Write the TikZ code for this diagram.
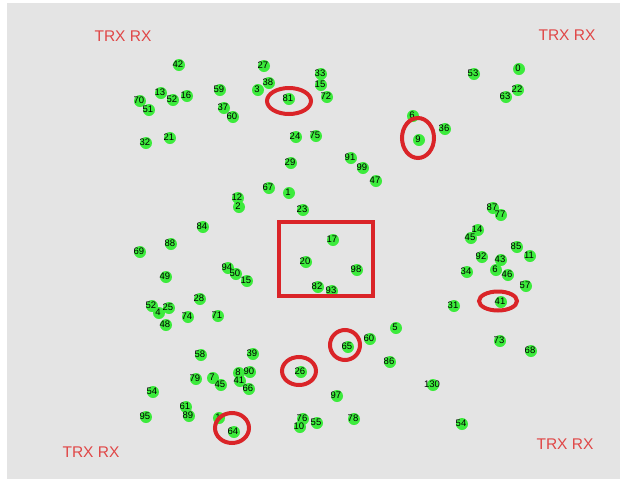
\documentclass[tikz,border=0pt]{standalone}
\usepackage{fontspec}
\setmainfont{Liberation Sans}
\definecolor{bg}{HTML}{E4E4E4}
\definecolor{dotg}{HTML}{3CEB3C}
\definecolor{ringr}{HTML}{DA2428}
\definecolor{trx}{HTML}{E04646}
\begin{document}
\begin{tikzpicture}[x=1pt,y=-1pt,
  lbl/.style={inner sep=0pt,font=\fontsize{9.5}{9.5}\selectfont,text=black},
  dotfill/.style={fill=dotg},
  ring/.style={draw=ringr,line width=4pt},
  trxlbl/.style={inner sep=0pt,font=\fontsize{15.5}{15.5}\selectfont,text=trx}]
\useasboundingbox (0,0) rectangle (625,483);
\fill[white] (0,0) rectangle (625,483);
\fill[bg] (7,3) rectangle (620,479);
\def\pts{
1/178/64/42, 2/263/65/27, 3/320/73/33, 4/320/84/15, 5/268/82/38, 6/257/89/3,
7/326/96/72, 8/288/98/81, 9/219/89/59, 10/186/95/16, 11/160/92/13, 12/172/99/52,
13/139/100/70, 14/148/109/51, 15/223/107/37, 16/232/116/60, 17/145/142/32, 18/169/137/21,
19/295/136/24, 20/315/135/75, 21/290/162/29, 22/350/157/91, 23/362/167/99, 24/375/180/47,
25/412/115/6, 26/418/139/9, 27/444/128/36, 28/473/73/53, 29/518/68/0, 30/517/89/22,
31/505/96/63, 32/268/187/67, 33/288/192/1, 34/237/197/12, 35/238/206/2, 36/302/209/23,
37/202/226/84, 38/170/243/88, 39/139/251/69, 40/165/276/49, 41/227/267/94, 42/235/273/50,
43/246/280/15, 44/199/298/28, 45/332/239/17, 46/305/261/20, 47/356/269/98, 48/317/286/82,
49/331/290/93, 50/492/207/87, 51/500/214/77, 52/477/229/14, 53/470/237/45, 54/516/246/85,
55/529/255/11, 56/481/256/92, 57/500/259/43, 58/495/269/6, 59/507/274/46, 60/466/271/34,
61/525/285/57, 62/453/305/31, 63/500/301/41, 64/499/340/73, 65/530/350/68, 66/151/305/52,
67/158/312/4, 68/168/307/25, 69/187/316/74, 70/165/324/48, 71/217/315/71, 72/395/327/5,
73/369/338/60, 74/347/346/65, 75/200/354/58, 76/252/353/39, 77/389/361/86, 78/300/371/26,
79/195/378/79, 80/212/377/7, 81/220/384/45, 82/238/372/8, 83/249/371/90, 84/239/380/41,
85/248/388/66, 86/152/391/54, 87/145/416/95, 88/185/406/61, 89/188/415/89, 90/336/395/97,
91/353/418/78, 92/432/384/130, 93/461/423/54, 94/302/418/76, 95/316/422/55, 96/299/426/10,
97/233/431/64, 98/218/417/1}
\foreach \i/\x/\y/\l in \pts
  {\fill[dotfill] (\x+1,\y+1) circle (6);}
\foreach \i/\x/\y/\l in \pts
  {\node[lbl] (n\i) at (\x,\y) {\l};}
% red markings
\draw[ring] (279,222) rectangle (373,296);
\draw[ring] (289,101) ellipse [x radius=22, y radius=13];
\draw[ring] (418,138) ellipse [x radius=16, y radius=20];
\draw[ring] (498,301) ellipse [x radius=19, y radius=9.5];
\draw[ring] (345,345) ellipse [x radius=15, y radius=15];
\draw[ring] (299,371) ellipse [x radius=17, y radius=14];
\draw[ring] (232,428) ellipse [x radius=17, y radius=15];
% corner labels
\node[trxlbl] (tl) at (123,36) {TRX RX};
\node[trxlbl] (tr) at (567,35) {TRX RX};
\node[trxlbl] (bl) at (91,452) {TRX RX};
\node[trxlbl] (br) at (565,444) {TRX RX};
\end{tikzpicture}
\end{document}
